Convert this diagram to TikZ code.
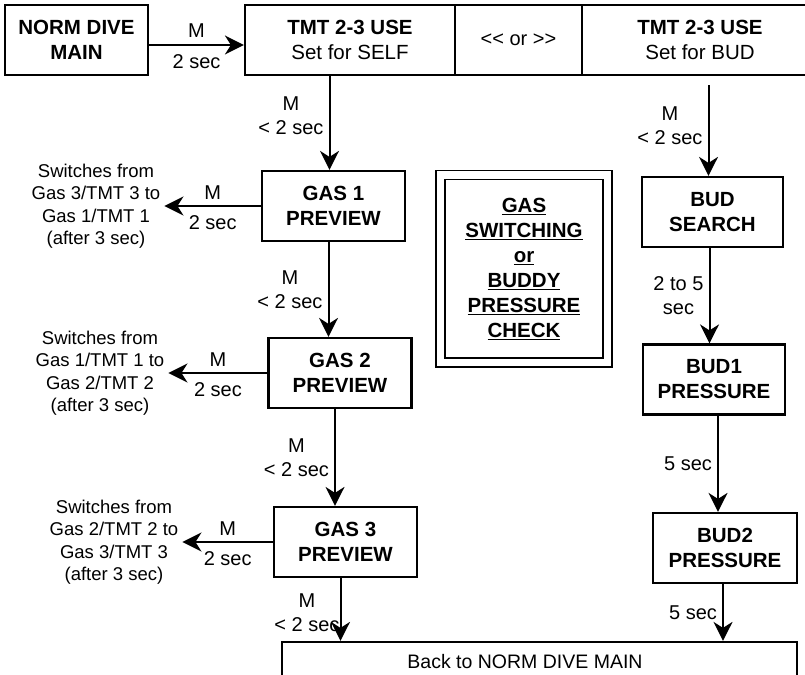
\documentclass[tikz,border=0pt]{standalone}
\usepackage{fontspec}
\setmainfont{Liberation Sans}
\usepackage{tikz}
\usetikzlibrary{arrows.meta,positioning,calc}

\begin{document}
\begin{tikzpicture}[x=1pt, y=-1pt,
  box/.style={draw, line width=2.2pt, minimum width=143pt, minimum height=70pt,
    inner sep=0pt, align=center, font=\fontsize{20.5}{25}\selectfont\bfseries},
  lbl/.style={align=center, inner sep=5pt, font=\fontsize{20}{24}\selectfont},
  lblup/.style={lbl, above, midway, yshift=1pt},
  lbldn/.style={lbl, below, midway, yshift=-4pt},
  note/.style={align=center, inner sep=4pt, font=\fontsize{18.5}{22.5}\selectfont},
  arr/.style={line width=2pt, -{Stealth[length=19pt, width=19pt, inset=6pt]}}]
  \useasboundingbox (0,0) rectangle (805,674);
  \clip (0,0) rectangle (805,674);

  % 上段
  \node[box] (main) at (76.5,40) {NORM DIVE\\MAIN};
  \node[box, minimum width=210pt] (self) at (350,40) {TMT 2-3 USE\\{\mdseries Set for SELF}};
  \node[box, minimum width=127pt, font=\fontsize{20}{24}\selectfont] (sel) at (518.5,40) {<\kern0pt< or >\kern0pt>};
  \node[box, minimum width=236pt] (bud) at (700,40) {TMT 2-3 USE\\{\mdseries Set for BUD}};
  \draw[arr] ($(main.east)+(0,5)$) -- ($(self.west)+(0,5)$) node[lblup] {M} node[lbldn] {2 sec};

  % ガス切替
  \foreach \i/\p/\x/\y/\sx in {1/3/333.5/206/96, 2/1/340/373/100, 3/2/345.5/542/114} {
    \node[box] (gas\i) at (\x,\y) {GAS \i\\PREVIEW};
    \node[note] (sw\i) at (\sx,\y) {Switches from\\Gas \p/TMT \p\ to\\Gas \i/TMT \i\\(after 3 sec)};
    \draw[arr] (gas\i.west) -- (sw\i.east) node[lblup] {M} node[lbldn] {2 sec};
  }
  \draw[arr] ($(self.south -| gas1.north)+(-4,0)$) -- node[lbl, left, pos=0.42] {M\\< 2 sec} ($(gas1.north)+(-4,0)$);
  \foreach \i/\j in {1/2, 2/3} {
    \draw[arr] ($(gas\i.south)+(-5,0)$) -- node[lbl, left] {M\\< 2 sec} ($(gas\i.south |- gas\j.north)+(-5,0)$);
  }

  % 戻り
  \node[box, minimum width=515pt, minimum height=40pt, font=\fontsize{19.5}{24}\selectfont] (back) at (539.5,662)
    {\hspace*{-29pt}Back to NORM DIVE MAIN};
  \draw[arr] ($(gas3.south)+(-5,0)$) -- node[lbl, left, inner sep=0pt, yshift=-3pt] {M\\< 2 sec} ($(gas3.south |- back.north)+(-5,0)$);

  % 中央の見出し
  \node[draw, double, double distance=7.5pt, line width=1.3pt, minimum width=167pt, minimum height=187.5pt,
    align=center, font=\fontsize{20.5}{25}\selectfont\bfseries] (title) at (524,268.75)
    {\underline{GAS}\\\underline{SWITCHING}\\\underline{or}\\\underline{BUDDY}\\\underline{PRESSURE}\\\underline{CHECK}};

  % バディ
  \node[box, minimum width=141pt] (srch) at (712.5,212) {BUD\\SEARCH};
  \node[box, minimum width=142pt] (bud1) at (714,379.5) {BUD1\\PRESSURE};
  \node[box, minimum width=144pt] (bud2) at (725,548) {BUD2\\PRESSURE};
  \draw[arr, shorten <=9pt] ($(bud.south -| srch.north)+(-4,0)$) -- node[lbl, left] {M\\< 2 sec} ($(srch.north)+(-4,0)$);
  \draw[arr] ($(srch.south)+(-3,0)$) -- node[lbl, left] {2 to 5\\sec} ($(srch.south |- bud1.north)+(-3,0)$);
  \draw[arr] ($(bud1.south)+(4,0)$) -- node[lbl, left] {5 sec} ($(bud1.south |- bud2.north)+(4,0)$);
  \draw[arr] ($(bud2.south)+(-2,0)$) -- node[lbl, left] {5 sec} ($(bud2.south |- back.north)+(-2,0)$);
\end{tikzpicture}
\end{document}
